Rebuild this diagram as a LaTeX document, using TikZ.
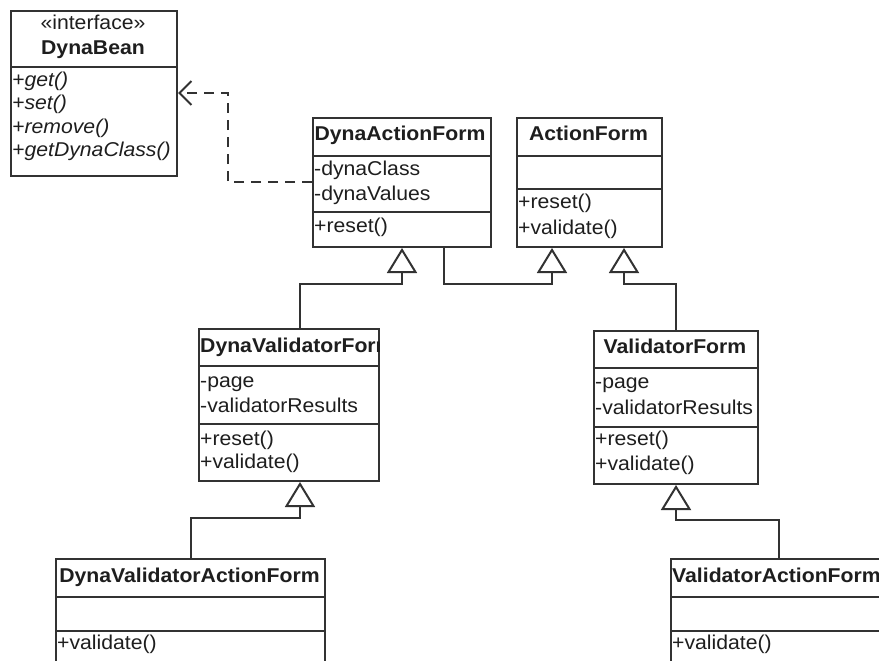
\documentclass[tikz,border=0pt]{standalone}
\usepackage{fontspec}
\setmainfont{Liberation Sans}[FakeStretch=1.06]
\usetikzlibrary{arrows.meta,calc}
\definecolor{ln}{RGB}{50,50,50}
\definecolor{tx}{RGB}{30,30,30}
\begin{document}
\begin{tikzpicture}[x=1pt,y=-1pt,
 cls/.style={draw=ln, fill=white, anchor=north west, inner sep=0pt, line width=2pt},
 sepl/.style={draw=ln, line width=2pt},
 lbl/.style={anchor=west, inner sep=0pt, text height=14pt, text depth=4pt, font=\fontsize{20}{24}\selectfont, text=tx},
 ttl/.style={lbl, anchor=center, font=\fontsize{20}{24}\selectfont\bfseries},
 itl/.style={lbl, font=\fontsize{20}{24}\selectfont\itshape},
 gen/.style={draw=ln, line width=2pt, -{Triangle[open, length=25pt, width=30pt]}},
 real/.style={draw=ln, line width=2pt, dash pattern=on 10pt off 7pt, -{Straight Barb[length=12pt, width=24pt]}}]
\useasboundingbox (0,0) rectangle (879,661);
\clip (0,0) rectangle (879,661);

% DynaBean
\node[cls, minimum width=166pt, minimum height=165pt] (db) at (10,10) {};
\draw[sepl] ($(db.north west)+(0,57)$) -- ($(db.north east)+(0,57)$);
\node[lbl, anchor=center] (dbs) at (93,25) {«interface»};
\node[ttl] (dbn) at (93,50) {DynaBean};
\node[itl] (dbm1) at (12,82) {+get()};
\node[itl] (dbm2) at (12,105) {+set()};
\node[itl] (dbm3) at (12,128) {+remove()};
\node[itl] (dbm4) at (12,152) {+getDynaClass()};

% DynaActionForm
\node[cls, minimum width=178pt, minimum height=129pt] (daf) at (312,117) {};
\draw[sepl] ($(daf.north west)+(0,39)$) -- ($(daf.north east)+(0,39)$);
\draw[sepl] ($(daf.north west)+(0,95)$) -- ($(daf.north east)+(0,95)$);
\node[ttl] (dafn) at (400,135) {DynaActionForm};
\node[lbl] (dafa1) at (314,170) {-dynaClass};
\node[lbl] (dafa2) at (314,195) {-dynaValues};
\node[lbl] (dafm1) at (314,227) {+reset()};

% ActionForm
\node[cls, minimum width=145pt, minimum height=129pt] (af) at (516,117) {};
\draw[sepl] ($(af.north west)+(0,39)$) -- ($(af.north east)+(0,39)$);
\draw[sepl] ($(af.north west)+(0,72)$) -- ($(af.north east)+(0,72)$);
\node[ttl] (afn) at (588.5,135) {ActionForm};
\node[lbl] (afm1) at (518,203) {+reset()};
\node[lbl] (afm2) at (518,229) {+validate()};

% DynaValidatorForm
\node[cls, minimum width=180pt, minimum height=152pt] (dvf) at (198,328) {};
\draw[sepl] ($(dvf.north west)+(0,38)$) -- ($(dvf.north east)+(0,38)$);
\draw[sepl] ($(dvf.north west)+(0,96)$) -- ($(dvf.north east)+(0,96)$);
\begin{scope}
\clip ($(dvf.north west)+(1,1)$) rectangle ($(dvf.south east)+(-1,-1)$);
\node[lbl, font=\fontsize{20}{24}\selectfont\bfseries] (dvfn) at (200,347) {DynaValidatorForm};
\end{scope}
\node[lbl] (dvfa1) at (200,382) {-page};
\node[lbl] (dvfa2) at (200,407) {-validatorResults};
\node[lbl] (dvfm1) at (200,440) {+reset()};
\node[lbl] (dvfm2) at (200,463) {+validate()};

% ValidatorForm
\node[cls, minimum width=164pt, minimum height=153pt] (vf) at (593,330) {};
\draw[sepl] ($(vf.north west)+(0,38)$) -- ($(vf.north east)+(0,38)$);
\draw[sepl] ($(vf.north west)+(0,97)$) -- ($(vf.north east)+(0,97)$);
\node[ttl] (vfn) at (675,348) {ValidatorForm};
\node[lbl] (vfa1) at (595,383) {-page};
\node[lbl] (vfa2) at (595,409) {-validatorResults};
\node[lbl] (vfm1) at (595,440) {+reset()};
\node[lbl] (vfm2) at (595,465) {+validate()};

% DynaValidatorActionForm
\node[cls, minimum width=269pt, minimum height=150pt] (dvaf) at (55,558) {};
\draw[sepl] ($(dvaf.north west)+(0,39)$) -- ($(dvaf.north east)+(0,39)$);
\draw[sepl] ($(dvaf.north west)+(0,73)$) -- ($(dvaf.north east)+(0,73)$);
\node[ttl] (dvafn) at (189.5,577) {DynaValidatorActionForm};
\node[lbl] (dvafm1) at (57,644) {+validate()};

% ValidatorActionForm
\node[cls, minimum width=216pt, minimum height=150pt] (vaf) at (670,558) {};
\draw[sepl] ($(vaf.north west)+(0,39)$) -- ($(vaf.north east)+(0,39)$);
\draw[sepl] ($(vaf.north west)+(0,73)$) -- ($(vaf.north east)+(0,73)$);
\node[lbl, font=\fontsize{20}{24}\selectfont\bfseries] (vafn) at (672,577) {ValidatorActionForm};
\node[lbl] (vafm1) at (672,644) {+validate()};

% generalizations
\draw[gen] ($(dvf.north west)+(102,0)$) |- ($(daf.south)+(0,36)$) -- (daf.south);
\draw[gen] ($(daf.south west)+(132,0)$) -- ++(0,36) -| ($(af.south west)+(36,0)$);
\draw[gen] (vf.north) |- ($(af.south west)+(108,36)$) -- ($(af.south west)+(108,0)$);
\draw[gen] (dvaf.north) |- ($(dvf.south west)+(102,36)$) -- ($(dvf.south west)+(102,0)$);
\draw[gen] (vaf.north) |- ($(vf.south)+(0,35)$) -- (vf.south);

% realization
\draw[real] ($(daf.north west)+(0,65)$) -| ($(db.north east)+(50,83)$) -- ($(db.north east)+(0,83)$);
\end{tikzpicture}
\end{document}
